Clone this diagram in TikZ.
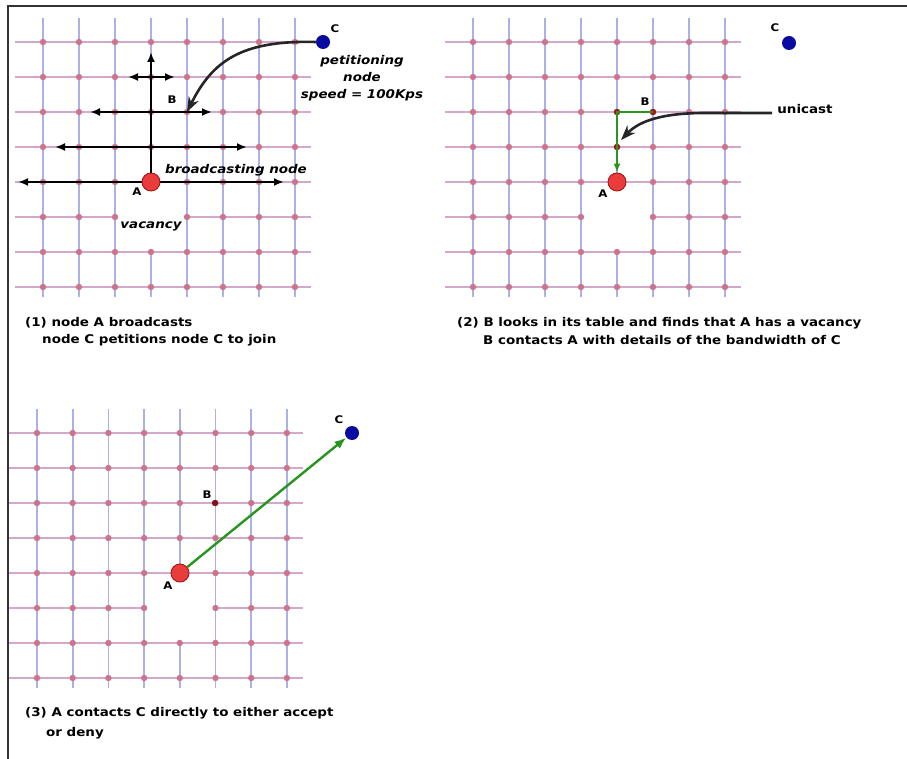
\documentclass[tikz,border=0pt]{standalone}
\usepackage{fontspec}
\setmainfont{DejaVu Sans}
\newfontfamily\widefont[FakeStretch=1.12]{DejaVu Sans}
\usetikzlibrary{arrows.meta}
\definecolor{gridh}{RGB}{210,168,205}
\definecolor{gridv}{RGB}{170,176,232}
\definecolor{gdot}{RGB}{205,115,140}
\definecolor{anode}{RGB}{235,60,60}
\definecolor{aline}{RGB}{160,25,25}
\definecolor{cnode}{RGB}{10,10,160}
\definecolor{gpath}{RGB}{40,150,30}
\tikzset{
  hline/.style={gridh,line width=1.8pt},
  vline/.style={gridv,line width=1.8pt},
  anodestyle/.style={circle,fill=anode,draw=aline,line width=0.9pt,minimum size=18pt,inner sep=0},
  cnodestyle/.style={circle,fill=cnode,minimum size=14pt,inner sep=0},
  lbl/.style={font=\widefont\bfseries\fontsize{10.5}{12}\selectfont,inner sep=0},
  itlbl/.style={font=\widefont\bfseries\itshape\fontsize{12}{17}\selectfont,inner sep=0},
  captxt/.style={font=\widefont\bfseries\fontsize{12}{16}\selectfont,inner sep=0,anchor=west},
  barrow/.style={black,line width=2.2pt,-{Latex[length=10pt,width=8pt]}},
  bbarrow/.style={black,line width=2.2pt,{Latex[length=10pt,width=8pt]}-{Latex[length=10pt,width=8pt]}},
  garrow/.style={gpath,line width=2.4pt,-{Latex[length=12pt,width=9pt]}},
  curvearrow/.style={black!85,line width=2.6pt,-{Stealth[length=15pt,width=11pt]}}
}
\newcommand\meshpanel[5]{%
 \begin{scope}[shift={(#1,#2)}]
  \foreach \r in {0,...,7}{%
    \ifnum\r=5
      \draw[hline] (-28,\r*#4) -- ({(#5-1)*#3},\r*#4);
      \draw[hline] ({(#5+1)*#3},\r*#4) -- (7*#3+16,\r*#4);
    \else
      \draw[hline] (-28,\r*#4) -- (7*#3+16,\r*#4);
    \fi}
  \foreach \c in {0,...,7}{%
    \ifnum\c=#5
      \draw[vline] (\c*#3,-24) -- (\c*#3,4*#4);
      \draw[vline] (\c*#3,6*#4) -- (\c*#3,7*#4+10);
    \else
      \draw[vline] (\c*#3,-24) -- (\c*#3,7*#4+10);
    \fi}
  \foreach \c in {0,...,7}{%
   \foreach \r in {0,...,7}{%
    \ifnum\c=#5 \ifnum\r=5 \else \fill[gdot] (\c*#3,\r*#4) circle (3.2pt); \fi
    \else \fill[gdot] (\c*#3,\r*#4) circle (3.2pt); \fi}}
 \end{scope}}
\begin{document}
\begin{tikzpicture}[x=1pt,y=-1pt]
\useasboundingbox (0,0) rectangle (907,759);
\draw[black!80,line width=1.4pt] (8,759) -- (8,6) -- (907,6);

% ---------- panel 1 ----------
\meshpanel{43}{42}{36}{35}{3}
\coordinate (B1) at (187,112);
\coordinate (u1) at (151,52);
\coordinate (l1a) at (128,77);  \coordinate (r1a) at (175,77);
\coordinate (l1b) at (90,112);  \coordinate (r1b) at (212,112);
\coordinate (l1c) at (55,147);  \coordinate (r1c) at (247,147);
\coordinate (l1d) at (18,182);  \coordinate (r1d) at (284,182);
\draw[bbarrow] (l1a) -- (r1a);
\draw[bbarrow] (l1b) -- (r1b);
\draw[bbarrow] (l1c) -- (r1c);
\draw[bbarrow] (l1d) -- (r1d);
\node[anodestyle] (A1) at (151,182) {};
\draw[barrow] (A1.north) -- (u1);
\node[cnodestyle] (C1) at (323,42) {};
\draw[curvearrow] (C1.west) .. controls (240,40) and (212,62) .. (B1);
\node[lbl] (A1l) at (137,192) {A};
\node[lbl] (B1l) at (172,100) {B};
\node[lbl] (C1l) at (335,29) {C};
\node[itlbl,align=center] (pet) at (362,78) {petitioning\\node\\speed = 100Kps};
\node[itlbl] (bn) at (236,170) {broadcasting node};
\node[itlbl] (vac) at (151,226) {vacancy};
\node[captxt] (cap1a) at (25,323) {(1) node A broadcasts};
\node[captxt] (cap1b) at (42,340) {node C petitions node C to join};

% ---------- panel 2 ----------
\meshpanel{473}{42}{36}{35}{4}
\coordinate (B2) at (653,112);
\coordinate (k2a) at (617,112);
\coordinate (k2b) at (617,147);
\fill[aline] (k2a) circle (3.2pt);
\fill[aline] (k2b) circle (3.2pt);
\fill[aline] (B2) circle (3.2pt);
\node[anodestyle] (A2) at (617,182) {};
\draw[gpath,line width=1.8pt] (B2) -- (k2a) -- (k2b);
\draw[gpath,line width=1.8pt,-{Latex[length=9pt,width=7pt]}] (k2b) -- (A2.north);
\node[cnodestyle] (C2) at (789,43) {};
\node[lbl] (A2l) at (603,194) {A};
\node[lbl] (B2l) at (645,102) {B};
\node[lbl] (C2l) at (775,28) {C};
\node[font=\widefont\bfseries\fontsize{12}{13}\selectfont,inner sep=0] (uni) at (805,109) {unicast};
\coordinate (u2) at (772,113);
\coordinate (t2) at (621,140);
\draw[curvearrow] (u2) -- (705,113) .. controls (665,113) and (640,120) .. (t2);
\node[captxt] (cap2a) at (457,323) {(2) B looks in its table and finds that A has a vacancy};
\node[captxt] (cap2b) at (483,340) {B contacts A with details of the bandwidth of C};

% ---------- panel 3 ----------
\meshpanel{37}{433}{35.7}{35}{4}
\coordinate (B3) at (215,503);
\fill[aline!80!black] (B3) circle (3.2pt);
\node[anodestyle] (A3) at (180,573) {};
\node[cnodestyle] (C3) at (352,433) {};
\draw[garrow] (A3) -- (C3);
\node[lbl] (A3l) at (168,586) {A};
\node[lbl] (B3l) at (207,495) {B};
\node[lbl] (C3l) at (339,420) {C};
\node[captxt] (cap3a) at (25,713) {(3) A contacts C directly to either accept};
\node[captxt] (cap3b) at (46,733) {or deny};
\end{tikzpicture}
\end{document}
